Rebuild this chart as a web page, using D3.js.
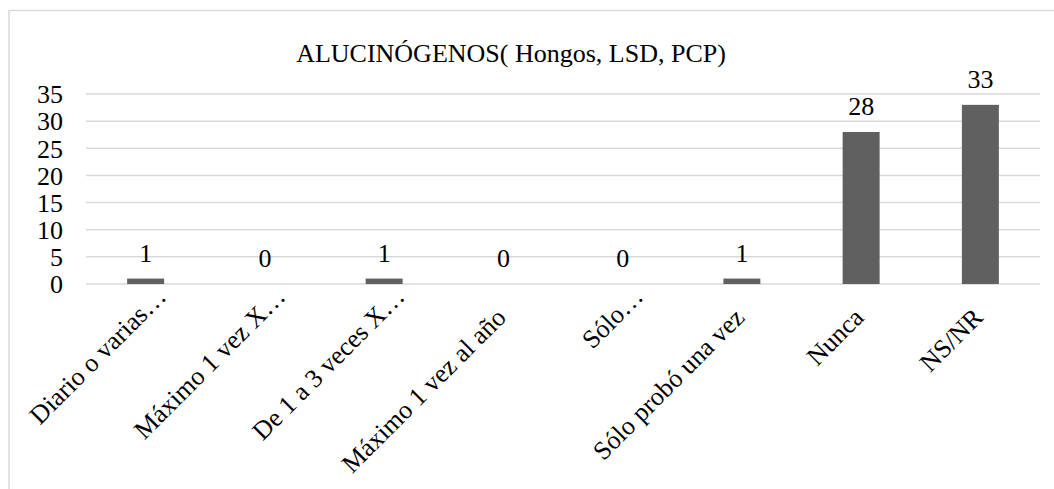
<!DOCTYPE html>
<html>
<head>
<meta charset="utf-8">
<script src="https://cdn.jsdelivr.net/npm/d3@7"></script>
<style>
  html, body { margin: 0; padding: 0; background: #fff; }
  svg { display: block; }
</style>
</head>
<body>
<svg id="chart" width="1054" height="489"></svg>
<script>
const title = "ALUCINÓGENOS( Hongos, LSD, PCP)";
const categories = ["Diario o varias…", "Máximo 1 vez X…", "De 1 a 3 veces X…", "Máximo 1 vez al año", "Sólo…", "Sólo probó una vez", "Nunca", "NS/NR"];
const values = [1, 0, 1, 0, 0, 1, 28, 33];
const yTicks = [0, 5, 10, 15, 20, 25, 30, 35];

const FONT = "font-family:'Liberation Serif','Times New Roman',serif;font-size:26px;fill:#000";

const svg = d3.select("#chart");
const y0 = 284, yTop = 94, xL = 86, xR = 1040;

// frame
svg.append("rect")
  .attr("x", 9).attr("y", 10.5)
  .attr("width", 1100).attr("height", 600)
  .attr("fill", "none").attr("stroke", "#d9d9d9").attr("stroke-width", 1.5);

const x = d3.scaleBand().domain(categories).range([xL, xR]).paddingInner(0.69).paddingOuter(0.345);
const y = d3.scaleLinear().domain([0, 35]).range([y0, yTop]);

// gridlines
svg.append("g").selectAll("line").data(yTicks).join("line")
  .attr("x1", xL).attr("x2", xR)
  .attr("y1", d => y(d)).attr("y2", d => y(d))
  .attr("stroke", "#d9d9d9").attr("stroke-width", 1.5);

// y axis labels
const yAxis = d3.axisLeft(y).tickValues(yTicks).tickSize(0).tickPadding(0);
const gy = svg.append("g").attr("transform", "translate(63,0)").call(yAxis);
gy.select(".domain").remove();
gy.attr("font-family", null).attr("font-size", null);
gy.selectAll("text").attr("style", FONT).attr("fill", null).attr("dy", "0.34em");

// bars
svg.append("g").selectAll("rect").data(values).join("rect")
  .attr("x", (d, i) => x(categories[i]))
  .attr("width", x.bandwidth())
  .attr("y", d => y(d))
  .attr("height", d => y0 - y(d))
  .attr("fill", "#606060");

// data labels
svg.append("g").selectAll("text").data(values).join("text")
  .attr("x", (d, i) => x(categories[i]) + x.bandwidth() / 2)
  .attr("y", d => y(d) - 17)
  .attr("text-anchor", "middle")
  .attr("style", FONT)
  .text(d => d);

// x axis labels
const xAxis = d3.axisBottom(x).tickSize(0).tickPadding(0);
const gx = svg.append("g").attr("transform", `translate(0,${y0})`).call(xAxis);
gx.select(".domain").remove();
gx.attr("font-family", null).attr("font-size", null);
gx.selectAll("text")
  .attr("style", FONT).attr("fill", null)
  .attr("text-anchor", "end")
  .attr("dy", null).attr("y", 0)
  .attr("transform", d => d.endsWith("…") ? "translate(22,14) rotate(-45)" : "translate(4,35) rotate(-45)");

// title
svg.append("text")
  .attr("x", 511).attr("y", 62)
  .attr("text-anchor", "middle")
  .attr("style", FONT)
  .text(title);
</script>
</body>
</html>
